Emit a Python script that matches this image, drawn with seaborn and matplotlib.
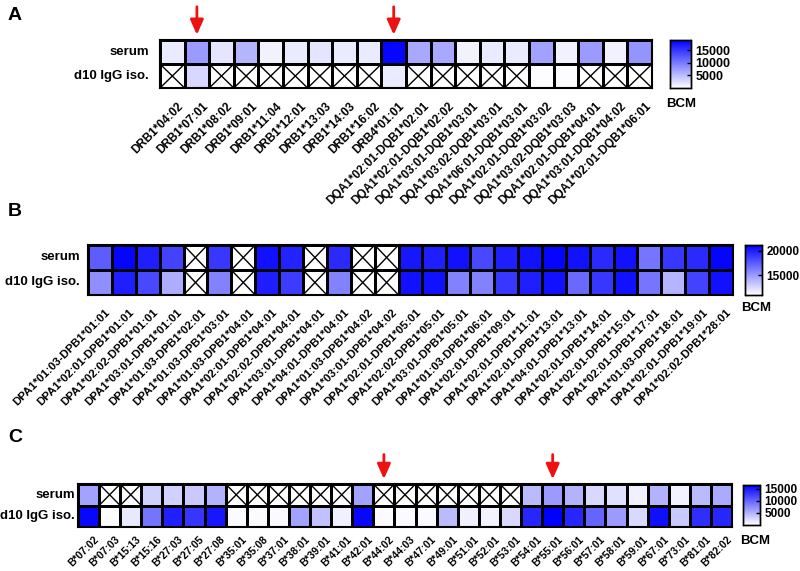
import matplotlib
matplotlib.use("Agg")
import matplotlib.pyplot as plt
import matplotlib.transforms as mtransforms
import numpy as np
import pandas as pd
import seaborn as sns
from matplotlib.colors import LinearSegmentedColormap

plt.rcParams["font.family"] = ["Liberation Sans", "DejaVu Sans"]

rows = ["serum", "d10 IgG iso."]

# panel A: class II DR / DQ (nan = not tested, drawn as crossed box)
a_labels = ["DRB1*04:02", "DRB1*07:01", "DRB1*08:02", "DRB1*09:01", "DRB1*11:04",
            "DRB1*12:01", "DRB1*13:03", "DRB1*14:03", "DRB1*16:02", "DRB4*01:01",
            "DQA1*02:01-DQB1*02:01", "DQA1*02:01-DQB1*02:02", "DQA1*03:01-DQB1*03:01",
            "DQA1*03:02-DQB1*03:01", "DQA1*06:01-DQB1*03:01", "DQA1*02:01-DQB1*03:02",
            "DQA1*03:02-DQB1*03:03", "DQA1*02:01-DQB1*04:01", "DQA1*03:01-DQB1*04:02",
            "DQA1*02:01-DQB1*06:01"]
a_serum = [1500, 7500, 2000, 5500, 1000, 1500, 2000, 1500, 1500, 18500,
           6500, 6500, 1000, 1500, 1500, 7000, 1000, 7500, 1000, 8000]
a_d10 = [np.nan, 3000, np.nan, np.nan, np.nan, np.nan, np.nan, np.nan, np.nan, 1500,
         np.nan, np.nan, np.nan, np.nan, np.nan, 200, 200, np.nan, np.nan, np.nan]
a_arrows = ["DRB1*07:01", "DRB4*01:01"]

# panel B: DP
b_labels = ["DPA1*01:03-DPB1*01:01", "DPA1*02:01-DPB1*01:01", "DPA1*02:02-DPB1*01:01",
            "DPA1*03:01-DPB1*01:01", "DPA1*01:03-DPB1*02:01", "DPA1*01:03-DPB1*03:01",
            "DPA1*01:03-DPB1*04:01", "DPA1*02:01-DPB1*04:01", "DPA1*02:02-DPB1*04:01",
            "DPA1*03:01-DPB1*04:01", "DPA1*04:01-DPB1*04:01", "DPA1*01:03-DPB1*04:02",
            "DPA1*03:01-DPB1*04:02", "DPA1*02:01-DPB1*05:01", "DPA1*02:02-DPB1*05:01",
            "DPA1*03:01-DPB1*05:01", "DPA1*01:03-DPB1*06:01", "DPA1*02:01-DPB1*09:01",
            "DPA1*02:01-DPB1*11:01", "DPA1*02:01-DPB1*13:01", "DPA1*04:01-DPB1*13:01",
            "DPA1*02:01-DPB1*14:01", "DPA1*02:01-DPB1*15:01", "DPA1*02:01-DPB1*17:01",
            "DPA1*01:03-DPB1*18:01", "DPA1*02:01-DPB1*19:01", "DPA1*02:02-DPB1*28:01"]
b_serum = [17500, 21000, 20000, 18500, np.nan, 19000, np.nan, 20500, 19800, np.nan,
           19500, np.nan, np.nan, 20300, 20000, 20500, 18300, 20000, 20500, 21000,
           20500, 19500, 20500, 16500, 19000, 19500, 21000]
b_d10 = [15500, 20000, 18300, 14300, np.nan, 16000, np.nan, 20000, 18800, np.nan,
         16000, np.nan, np.nan, 20500, 20500, 16000, 16000, 19000, 20000, 20500,
         17000, 19000, 20500, 16500, 14000, 18500, 20500]

# panel C: class I HLA-B
c_labels = ["B*07:02", "B*07:03", "B*15:13", "B*15:16", "B*27:03", "B*27:05", "B*27:08",
            "B*35:01", "B*35:08", "B*37:01", "B*38:01", "B*39:01", "B*41:01", "B*42:01",
            "B*44:02", "B*44:03", "B*47:01", "B*49:01", "B*51:01", "B*52:01", "B*53:01",
            "B*54:01", "B*55:01", "B*56:01", "B*57:01", "B*58:01", "B*59:01", "B*67:01",
            "B*73:01", "B*81:01", "B*82:02"]
c_serum = [6000, np.nan, np.nan, 3000, 3000, 3500, 5000,
           np.nan, np.nan, np.nan, np.nan, np.nan, np.nan, 6000,
           np.nan, np.nan, np.nan, np.nan, np.nan, np.nan, np.nan,
           4500, 6500, 5000, 2500, 2000, 1000, 5000, 800, 4500, 5500]
c_d10 = [16000, 200, 1500, 9000, 14500, 13000, 15000,
         300, 300, 300, 6000, 4000, 1000, 16000,
         300, 300, 300, 4500, 1000, 800, 2500,
         14000, 16500, 14000, 10000, 6500, 2500, 15500, 3500, 13500, 14000]
c_arrows = ["B*44:02", "B*55:01"]

cmap = LinearSegmentedColormap.from_list("bcm", ["#ffffff", "#0000ff"])

fig = plt.figure(figsize=(8, 5.71), dpi=100)
W, H = 800, 571


def px_axes(x0, y0, x1, y1):
    return fig.add_axes([x0 / W, 1 - y1 / H, (x1 - x0) / W, (y1 - y0) / H])


def panel(box, cbox, labels, serum, d10, vmin, vmax, ticks, bcm_xy, ypad,
          xfs=8.5, xpad=9, cfs=9, arrows=()):
    ax = px_axes(*box)
    cax = px_axes(*cbox)
    df = pd.DataFrame([serum, d10], index=rows, columns=labels)
    sns.heatmap(df, ax=ax, cmap=cmap, vmin=vmin, vmax=vmax, mask=df.isna(),
                linewidths=1, linecolor="black", cbar_ax=cax,
                cbar_kws={"ticks": ticks}, xticklabels=True, yticklabels=True)
    # crossed boxes for untested cells
    for r, c in zip(*np.where(df.isna().values)):
        ax.plot([c, c + 1], [r, r + 1], color="black", lw=1)
        ax.plot([c, c + 1], [r + 1, r], color="black", lw=1)
    for s in ax.spines.values():
        s.set_visible(True)
        s.set_linewidth(1.5)
    ax.tick_params(axis="x", length=0, pad=xpad)
    ax.tick_params(axis="y", length=0, pad=ypad)
    ax.set_xlabel("")
    ax.set_ylabel("")
    shift = mtransforms.ScaledTranslation(0.05, 0, fig.dpi_scale_trans)
    for t in ax.get_xticklabels():
        t.set_transform(t.get_transform() + shift)
    plt.setp(ax.get_xticklabels(), rotation=45, ha="right", rotation_mode="anchor",
             fontsize=xfs, fontweight="bold")
    plt.setp(ax.get_yticklabels(), rotation=0, fontsize=9.5, fontweight="bold")
    for name in arrows:
        x = labels.index(name) + 0.5
        ax.annotate("", xy=(x, -0.1), xytext=(x, -1.5), annotation_clip=False,
                    arrowprops=dict(arrowstyle="-|>,head_width=0.4,head_length=0.9",
                                    color="#ee1111", lw=2))
    for s in cax.spines.values():
        s.set_visible(True)
        s.set_linewidth(1)
    cax.tick_params(labelsize=cfs, length=3, width=1, direction="in", pad=3)
    plt.setp(cax.get_yticklabels(), fontweight="bold")
    fig.text(bcm_xy[0] / W, 1 - bcm_xy[1] / H, "BCM", fontsize=9.5, fontweight="bold",
             ha="center", va="center")


panel((160, 40, 652, 88), (670, 40, 691, 88), a_labels, a_serum, a_d10,
      0, 19000, [5000, 10000, 15000], (681, 104), 8, arrows=a_arrows)
panel((88, 245, 733, 295), (745, 245, 762, 295), b_labels, b_serum, b_d10,
      11000, 21200, [15000, 20000], (756, 308), 6, xfs=8.2, cfs=8.5)
panel((78, 484, 732, 527), (743, 485, 760, 525), c_labels, c_serum, c_d10,
      0, 16500, [5000, 10000, 15000], (755, 541), 2, xfs=7.5, xpad=5, cfs=8.5,
      arrows=c_arrows)

for letter, y in [("A", 15), ("B", 212), ("C", 437)]:
    fig.text(8 / W, 1 - y / H, letter, fontsize=14, fontweight="bold", va="center")

fig.savefig("out.png", dpi=100)
